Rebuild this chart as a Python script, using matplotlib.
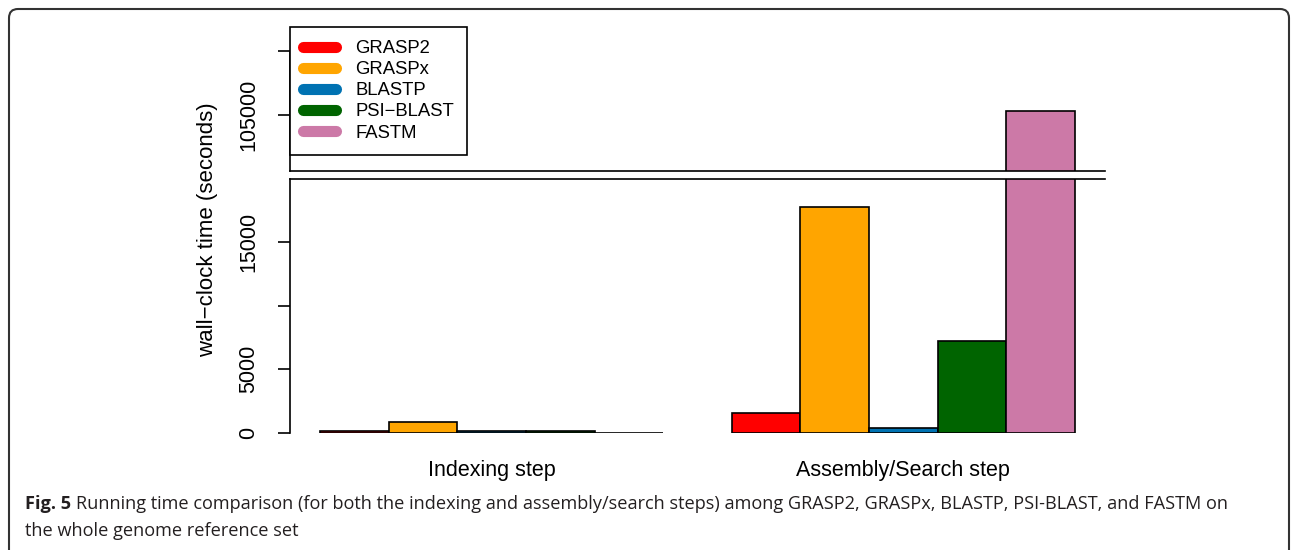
import matplotlib
matplotlib.use('Agg')
import matplotlib.pyplot as plt
import numpy as np
from matplotlib.patches import FancyBboxPatch
from matplotlib.lines import Line2D
from matplotlib.transforms import IdentityTransform

plt.rcParams['font.family'] = ['Liberation Sans', 'DejaVu Sans']

steps = ['Indexing step', 'Assembly/Search step']
tools = ['GRASP2', 'GRASPx', 'BLASTP', 'PSI\u2212BLAST', 'FASTM']
colors = ['#FF0000', '#FFA500', '#0072B2', '#006400', '#CC79A7']
indexing = [120, 870, 150, 150, 0]
assembly = [1570, 17770, 390, 7190, 105310]

W, H = 1292, 550
fig = plt.figure(figsize=(W / 100, H / 100), dpi=100)


def px_axes(x0, x1, ytop, ybot):
    return fig.add_axes([x0 / W, 1 - ybot / H, (x1 - x0) / W, (ybot - ytop) / H])


ax_lo = px_axes(290, 1105, 179, 433)
ax_hi = px_axes(290, 1105, 51.3, 171)

# bar positions, R style: one bar of space before each group
xs = []
for g in range(2):
    start = 1 + g * 6
    xs.append([start + i + 0.5 for i in range(5)])
values = [indexing, assembly]

for ax in (ax_lo, ax_hi):
    for g in range(2):
        ax.bar(xs[g], values[g], width=1.0, color=colors, edgecolor='black',
               linewidth=1.2)
    ax.set_xlim(0.56, 12.44)
    for s in ('right', 'bottom', 'top'):
        ax.spines[s].set_visible(False)
    ax.spines['left'].set_linewidth(1.2)
    ax.tick_params(axis='y', length=9, width=1.2, pad=13, labelsize=15.5,
                   labelrotation=90)

ax_lo.set_ylim(0, 19950)
ax_lo.set_yticks([0, 5000, 10000, 15000])
ax_lo.set_yticklabels(['0', '5000', '', '15000'], rotation=90, va='center')
ax_lo.spines['top'].set_visible(True)
ax_lo.spines['top'].set_linewidth(1.2)
ax_lo.set_xticks([np.mean(xs[0]), np.mean(xs[1])])
ax_lo.set_xticklabels(steps, fontsize=15.5)
ax_lo.tick_params(axis='x', length=0, pad=19.5)

ax_hi.set_ylim(100600, 110000)
ax_hi.set_yticks([105000, 110000])
ax_hi.set_yticklabels(['105000', ''], rotation=90, va='center')
ax_hi.spines['bottom'].set_visible(True)
ax_hi.spines['bottom'].set_linewidth(1.2)
ax_hi.set_xticks([])

fig.text(208 / W, 1 - 230 / H, 'wall\u2212clock time (seconds)', rotation=90,
         ha='center', va='center', fontsize=16)

handles = [Line2D([0], [0], color=c, lw=8, solid_capstyle='round') for c in colors]
leg = fig.legend(handles, tools, loc='upper left',
                 bbox_to_anchor=(290 / W, 1 - 27 / H), borderaxespad=0,
                 fontsize=13.3, handlelength=1.75, handletextpad=1.05,
                 labelspacing=0.22, fancybox=False, edgecolor='black',
                 framealpha=1, borderpad=0.72)
leg.get_frame().set_linewidth(1.2)

# outer panel border
border = FancyBboxPatch((9, -30), 1280, 571, boxstyle='round,pad=0,rounding_size=9',
                        transform=IdentityTransform(), fill=False,
                        edgecolor='#333333', linewidth=1.5)
fig.patches.append(border)

# caption
cap_size = 13.1
t1 = fig.text(25 / W, 1 - 509 / H, 'Fig. 5', fontsize=cap_size, fontweight='bold',
              family='Open Sans', color='#231F20', va='baseline')
r = fig.canvas.get_renderer()
bb = t1.get_window_extent(r)
fig.text((bb.x1 + 5) / W, 1 - 509 / H,
         'Running time comparison (for both the indexing and assembly/search steps) '
         'among GRASP2, GRASPx, BLASTP, PSI-BLAST, and FASTM on',
         fontsize=cap_size, family='Open Sans', color='#231F20', va='baseline')
fig.text(25 / W, 1 - 536 / H, 'the whole genome reference set',
         fontsize=cap_size, family='Open Sans', color='#231F20', va='baseline')

fig.savefig('out.png', dpi=100)
